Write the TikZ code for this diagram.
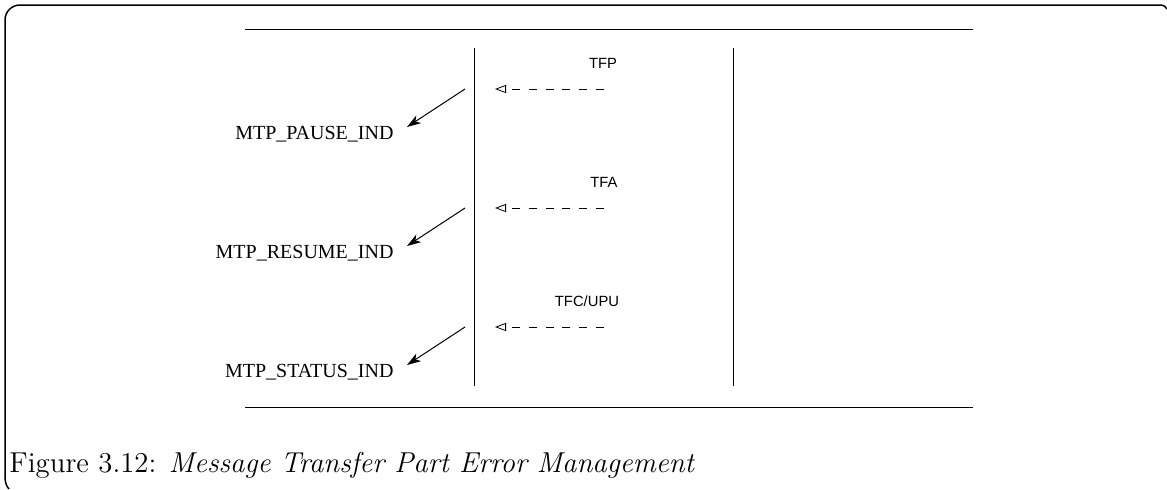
\documentclass[tikz,border=0pt]{standalone}
\usepackage{fontspec}
\newfontfamily\primfont{Liberation Serif}
\newfontfamily\msgfont{Liberation Sans}
\usetikzlibrary{arrows.meta}

\begin{document}
\begin{tikzpicture}[x=0.5pt, y=-0.5pt, line width=0.5pt,
  frame/.style={line width=0.75pt},
  prim/.style={font=\primfont\fontsize{10}{12}\selectfont, inner sep=0pt, anchor=base east},
  msg/.style={font=\msgfont\fontsize{7.4}{8}\selectfont, inner sep=0pt, anchor=base},
  indarrow/.style={-{Stealth[length=7pt, width=4.5pt, inset=2pt]}},
  msgarrow/.style={dash pattern=on 4pt off 4.4pt, -{Triangle[open, length=5.5pt, width=4pt, line width=0.4pt]}}]
  \useasboundingbox (0,0) rectangle (1167,489);
  % page frame: top and left edges with the corners that show
  \draw[frame] (5,477) -- (5,20) .. controls (5,11.7) and (11.7,5) .. (20,5)
    -- (1160,5) .. controls (1164,5) and (1166,7) .. (1167,9);
  \draw[frame] (5,477) .. controls (5,483) and (7,487) .. (9,489);
  % figure rules
  \draw (245,29) -- (973,29);
  \draw (245,407) -- (973,407);
  % lifelines
  \draw (474,48) -- (474,386);
  \draw (733,48) -- (733,386);
  % indications to the user part
  \node[prim] (pause) at (394,139) {MTP\_PAUSE\_IND};
  \node[prim] (resume) at (394,258) {MTP\_RESUME\_IND};
  \node[prim] (status) at (394,377) {MTP\_STATUS\_IND};
  \coordinate (pausefrom) at (465,89);
  \coordinate (pauseto) at (407,127);
  \coordinate (resumefrom) at (465,208);
  \coordinate (resumeto) at (407,246);
  \coordinate (statusfrom) at (465,327);
  \coordinate (statusto) at (407,365);
  \draw[indarrow] (pausefrom) -- (pauseto);
  \draw[indarrow] (resumefrom) -- (resumeto);
  \draw[indarrow] (statusfrom) -- (statusto);
  % incoming network messages
  \node[msg] (tfp) at (603,68) {TFP};
  \node[msg] (tfa) at (604,187) {TFA};
  \node[msg] (tfc) at (587,306) {TFC/UPU};
  \coordinate (tfpfrom) at (604,89);
  \coordinate (tfpto) at (495,89);
  \coordinate (tfafrom) at (604,208);
  \coordinate (tfato) at (495,208);
  \coordinate (tfcfrom) at (604,327);
  \coordinate (tfcto) at (495,327);
  \draw[msgarrow] (tfpfrom) -- (tfpto);
  \draw[msgarrow] (tfafrom) -- (tfato);
  \draw[msgarrow] (tfcfrom) -- (tfcto);
  % caption
  \node[anchor=base west, inner sep=0pt] (caption) at (9,472)
    {\fontsize{14.4}{17}\selectfont Figure 3.12: \textit{Message Transfer Part Error Management}};
\end{tikzpicture}
\end{document}
